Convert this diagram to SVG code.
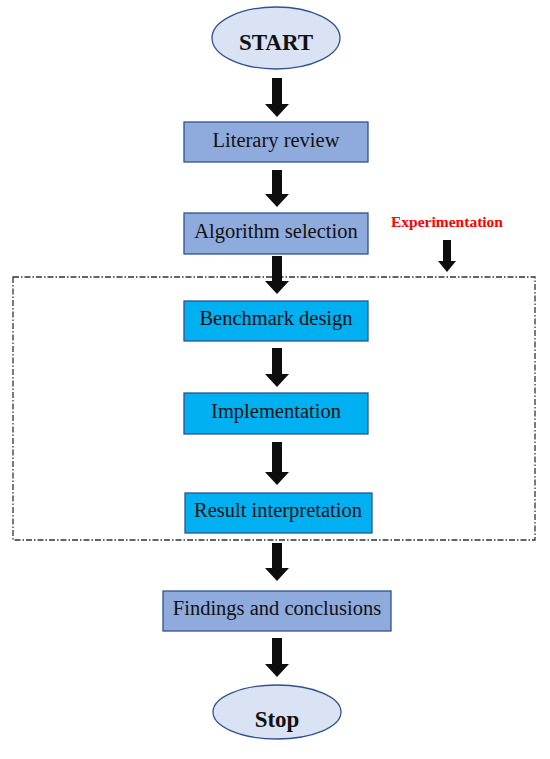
<svg xmlns="http://www.w3.org/2000/svg" width="550" height="759" viewBox="0 0 550 759">
<defs>
<style>
.bg{fill:#ffffff}
.ell{fill:#DAE3F3;stroke:#2F528F;stroke-width:1.3}
.box1{fill:#8FAADC;stroke:#2F528F;stroke-width:1.3}
.box2{fill:#00B0F0;stroke:#2F528F;stroke-width:1.3}
.t{font-family:"Liberation Serif","Times New Roman",serif;font-size:20.5px;fill:#111;text-anchor:middle}
.tb{font-family:"Liberation Serif","Times New Roman",serif;font-size:23px;font-weight:bold;fill:#111;text-anchor:middle}
.red{font-family:"Liberation Serif","Times New Roman",serif;font-size:15.5px;font-weight:bold;fill:#FF0000;text-anchor:middle}
.arr{fill:#0d0d0d}
.frame{fill:none;stroke:#333;stroke-width:1.3;stroke-dasharray:6 2 1.5 2}
</style>
</defs>
<rect class="bg" x="0" y="0" width="550" height="759"/>
<g id="experimentation-frame">
<rect class="frame" x="13" y="277" width="522" height="263"/>
<text class="red" x="447" y="227">Experimentation</text>
</g>
<g id="connectors">
<path class="arr" d="M272,78 H282 V104 H289 L277,117 L265,104 H272 Z"/>
<path class="arr" d="M272,170 H282 V194 H289 L277,207 L265,194 H272 Z"/>
<path class="arr" d="M272,256 H282 V281 H289 L277,294 L265,281 H272 Z"/>
<path class="arr" d="M272,348 H282 V374 H289 L277,387 L265,374 H272 Z"/>
<path class="arr" d="M272,442 H282 V472 H289 L277,485 L265,472 H272 Z"/>
<path class="arr" d="M272,543 H282 V568 H289 L277,581 L265,568 H272 Z"/>
<path class="arr" d="M272,638 H282 V664 H289 L277,677 L265,664 H272 Z"/>
<path class="arr" d="M443,240 H451 V261 H456 L447,272 L438,261 H443 Z"/>
</g>
<g id="start">
<ellipse class="ell" cx="276" cy="38" rx="64" ry="31"/>
<text class="tb" x="276" y="50">START</text>
</g>
<g id="literary-review">
<rect class="box1" x="184" y="122" width="184" height="40"/>
<text class="t" x="276" y="147">Literary review</text>
</g>
<g id="algorithm-selection">
<rect class="box1" x="184" y="213" width="184" height="41"/>
<text class="t" x="276" y="238">Algorithm selection</text>
</g>
<g id="benchmark-design">
<rect class="box2" x="184" y="301" width="184" height="40"/>
<text class="t" x="276" y="325">Benchmark design</text>
</g>
<g id="implementation">
<rect class="box2" x="184" y="393" width="184" height="41"/>
<text class="t" x="276" y="418">Implementation</text>
</g>
<g id="result-interpretation">
<rect class="box2" x="185" y="493" width="187" height="40"/>
<text class="t" x="278" y="517">Result interpretation</text>
</g>
<g id="findings">
<rect class="box1" x="163" y="591" width="228" height="40"/>
<text class="t" x="277" y="615">Findings and conclusions</text>
</g>
<g id="stop">
<ellipse class="ell" cx="277" cy="712" rx="64" ry="27"/>
<text class="tb" x="277" y="727">Stop</text>
</g>
</svg>
